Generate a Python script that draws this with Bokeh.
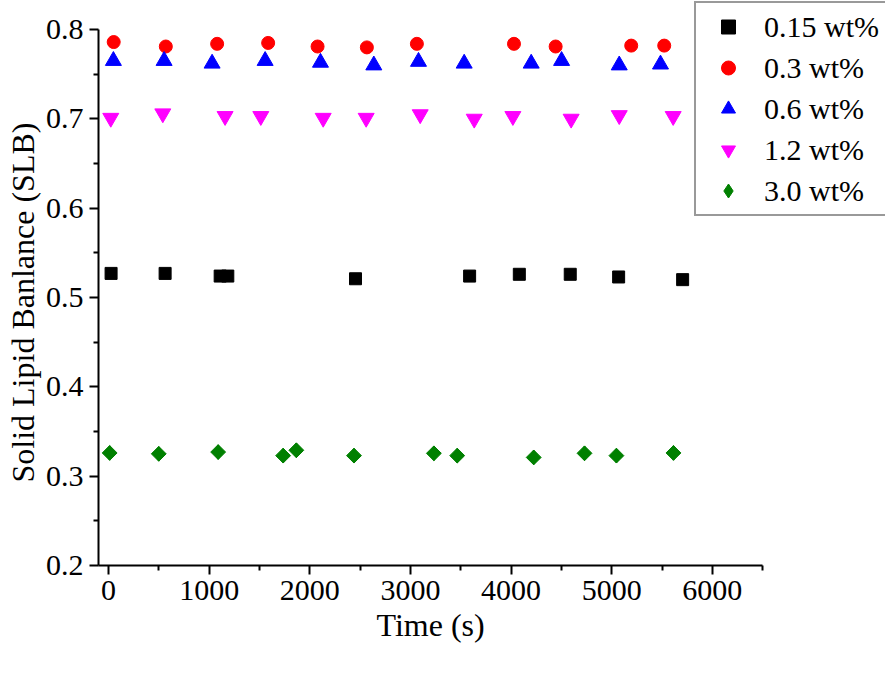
import math
from bokeh.plotting import figure
from bokeh.models import Range1d, FixedTicker, Legend, LegendItem, Title
from bokeh.embed import file_html
from bokeh.resources import INLINE

# ---- data ----
x_015 = [25, 562, 1109, 1185, 2454, 3588, 4082, 4588, 5069, 5705]
y_015 = [0.527, 0.527, 0.524, 0.524, 0.521, 0.524, 0.526, 0.526, 0.523, 0.520]

x_03 = [51, 569, 1079, 1586, 2077, 2567, 3064, 4029, 4443, 5194, 5522]
y_03 = [0.786, 0.781, 0.784, 0.785, 0.781, 0.780, 0.784, 0.784, 0.781, 0.782, 0.782]

x_06 = [48, 552, 1029, 1556, 2106, 2636, 3080, 3534, 4200, 4502, 5075, 5485]
y_06 = [0.765, 0.765, 0.762, 0.765, 0.763, 0.760, 0.764, 0.762, 0.762, 0.765, 0.760, 0.761]

x_12 = [22, 539, 1158, 1513, 2133, 2560, 3097, 3634, 4018, 4597, 5075, 5611]
y_12 = [0.701, 0.706, 0.703, 0.703, 0.701, 0.701, 0.705, 0.700, 0.703, 0.700, 0.704, 0.703]

x_30 = [11, 499, 1089, 1735, 1866, 2439, 3233, 3465, 4225, 4730, 5047, 5614]
y_30 = [0.326, 0.325, 0.327, 0.323, 0.329, 0.323, 0.3256, 0.323, 0.321, 0.3256, 0.323, 0.326]

labels = ["0.15 wt%", "0.3 wt%", "0.6 wt%", "1.2 wt%", "3.0 wt%"]
x_ticks = [0, 1000, 2000, 3000, 4000, 5000, 6000]
y_ticks = [0.2, 0.3, 0.4, 0.5, 0.6, 0.7, 0.8]
x_title = "Time (s)"
y_title = "Solid Lipid Banlance (SLB)"

FONT = "'Liberation Serif', 'Times New Roman', serif"

p = figure(width=885, height=665, output_backend="svg", toolbar_location=None,
           x_range=Range1d(-100, 7721), y_range=Range1d(0.2, 0.8325),
           min_border_left=97, min_border_right=0, min_border_top=0, min_border_bottom=100)
p.outline_line_color = None
p.xgrid.visible = False
p.ygrid.visible = False
p.background_fill_color = "white"
p.border_fill_color = "white"

r1 = p.scatter(x_015, y_015, marker="square", size=12, fill_color="black", line_color="black")
r2 = p.scatter(x_03, y_03, marker="circle", size=13, fill_color="#ff0000", line_color="#ff0000")
r3 = p.scatter(x_06, y_06, marker="triangle", size=16, fill_color="#0000ff", line_color="#0000ff")
r4 = p.scatter(x_12, y_12, marker="inverted_triangle", size=16, fill_color="#ff00ff", line_color="#ff00ff")
# diamond key (sits inside the rotated squares; gives the legend its diamond swatch)
r5_key = p.scatter(x_30, y_30, marker="diamond", size=14.5, fill_color="#008000", line_color="#008000")
r5 = p.scatter(x_30, y_30, marker="square", angle=math.pi / 4, size=10.5,
               fill_color="#008000", line_color="#008000")

for ax, ticks, minor in ((p.xaxis[0], x_ticks, [v + 500 for v in x_ticks]),
                         (p.yaxis[0], y_ticks, [round(v + 0.05, 2) for v in y_ticks[:-1]])):
    ax.ticker = FixedTicker(ticks=ticks, minor_ticks=minor)
    ax.axis_line_width = 2
    ax.axis_line_color = "black"
    ax.major_tick_line_width = 2
    ax.minor_tick_line_width = 2
    ax.major_tick_line_color = "black"
    ax.minor_tick_line_color = "black"
    ax.major_tick_out = 9
    ax.major_tick_in = 0
    ax.minor_tick_out = 5
    ax.minor_tick_in = 0
    ax.major_label_text_font = FONT
    ax.major_label_text_font_size = "30px"
    ax.major_label_text_color = "black"

p.xaxis.bounds = (-100, 6500)
p.yaxis.bounds = (0.2, 0.8)
p.xaxis.major_label_standoff = 6
p.yaxis.major_label_standoff = 6

# axis titles centred on the axis lines (not on the wider frame)
p.add_layout(Title(text=x_title, align="left", offset=278, standoff=4,
                   text_font=FONT, text_font_size="32px", text_font_style="normal",
                   text_color="black"), "below")
p.add_layout(Title(text=y_title, align="left", offset=83, standoff=4,
                   text_font=FONT, text_font_size="32px", text_font_style="normal",
                   text_color="black"), "left")

legend = Legend(items=[LegendItem(label=l, renderers=[r])
                       for l, r in zip(labels, [r1, r2, r3, r4, r5_key])],
                location=(596, 349))
legend.label_text_font = FONT
legend.label_text_font_size = "30px"
legend.label_text_color = "black"
legend.padding = 6
legend.spacing = 6
legend.label_height = 35
legend.glyph_height = 35
legend.glyph_width = 52
legend.label_standoff = 10
legend.border_line_color = "#333333"
legend.border_line_width = 2
legend.background_fill_alpha = 1.0
legend.margin = 0
p.add_layout(legend, "center")

open("out.html", "w").write(file_html(p, INLINE))
